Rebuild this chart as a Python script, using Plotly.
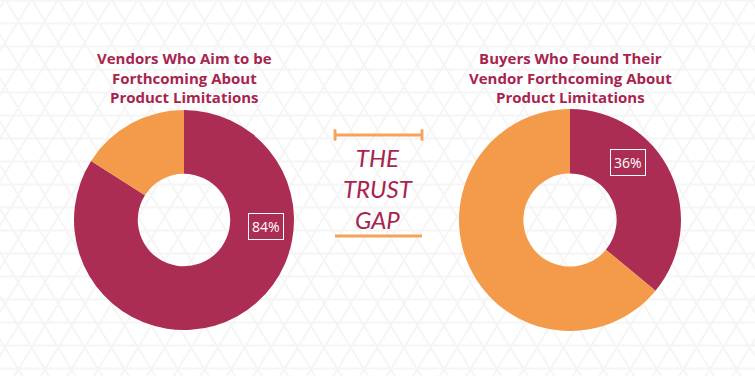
import plotly.graph_objects as go

W, H = 755, 376

# ---- data ----
slice_labels = ["Forthcoming", "Not forthcoming"]
vendor_values = [84, 16]
buyer_values = [36, 64]
vendor_title = ["Vendors Who Aim to be", "Forthcoming About", "Product Limitations"]
buyer_title = ["Buyers Who Found Their", "Vendor Forthcoming About", "Product Limitations"]
center_text = "THE<br>TRUST<br>GAP"

CRIMSON = "#AC2D53"
ORANGE = "#F39B4B"
TITLE_C = "#A7244E"
BAR_C = "#F5A35B"

def px(x):
    return x / W

def py(y):
    return 1 - y / H

fig = go.Figure()

fig.add_trace(go.Pie(
    labels=slice_labels, values=vendor_values, hole=0.42, sort=False,
    direction="clockwise", rotation=0, textinfo="none", hoverinfo="label+percent",
    marker=dict(colors=[CRIMSON, ORANGE], line=dict(width=0)),
    domain=dict(x=[px(74), px(294)], y=[(376 - 330) / H, (376 - 110) / H]),
    showlegend=False,
))
fig.add_trace(go.Pie(
    labels=slice_labels, values=buyer_values, hole=0.42, sort=False,
    direction="clockwise", rotation=0, textinfo="none", hoverinfo="label+percent",
    marker=dict(colors=[CRIMSON, ORANGE], line=dict(width=0)),
    domain=dict(x=[px(459), px(681)], y=[(376 - 331) / H, (376 - 109) / H]),
    showlegend=False,
))

# ---- background triangle pattern (single path) ----
step_y = 23.0
half = 13.3
segs = []
k = 0
while 0.5 + step_y * k <= H + 1:
    y = 0.5 + step_y * k
    segs.append(f"M{px(-5):.5f},{py(y):.5f}L{px(W + 5):.5f},{py(y):.5f}")
    k += 1
dx_full = (H + 30) / step_y * half
x0 = 18.3 - 26.6 * 20
while x0 < W + dx_full + 30:
    segs.append(f"M{px(x0):.5f},{py(0.5 - 23):.5f}L{px(x0 + dx_full + half):.5f},{py(0.5 + H + 7):.5f}")
    segs.append(f"M{px(x0):.5f},{py(0.5 - 23):.5f}L{px(x0 - dx_full - half):.5f},{py(0.5 + H + 7):.5f}")
    x0 += 26.6

shapes = [dict(type="path", xref="paper", yref="paper", path="".join(segs),
               line=dict(color="#F5F5F5", width=2), layer="below")]

# orange brackets
for yb in (135, 236):
    shapes.append(dict(type="line", xref="paper", yref="paper",
                       x0=px(335), x1=px(422), y0=py(yb), y1=py(yb),
                       line=dict(color=BAR_C, width=3)))
    for xb in (335, 422):
        shapes.append(dict(type="line", xref="paper", yref="paper",
                           x0=px(xb), x1=px(xb), y0=py(129.5), y1=py(140.5),
                           line=dict(color=BAR_C, width=2.5)))

annotations = []
for cx, lines in ((184, vendor_title), (570, buyer_title)):
    annotations.append(dict(
        text="<br>".join(lines), x=px(cx), y=py(77.5), xref="paper", yref="paper",
        showarrow=False, align="center", xanchor="center", yanchor="middle",
        font=dict(family="Open Sans", size=15, color=TITLE_C, weight=700)))

annotations += [
    dict(text=center_text, x=px(378), y=py(188), xref="paper", yref="paper",
         showarrow=False, align="center", xanchor="center", yanchor="middle",
         font=dict(family="Lato", size=24, color=TITLE_C, weight=400, style="italic")),
    dict(text=f"{vendor_values[0]}%", x=px(266), y=py(226.5), xref="paper", yref="paper",
         showarrow=False, xanchor="center", yanchor="middle",
         bordercolor="white", borderwidth=1, borderpad=3,
         font=dict(family="Open Sans", size=14, color="white")),
    dict(text=f"{buyer_values[0]}%", x=px(628), y=py(162), xref="paper", yref="paper",
         showarrow=False, xanchor="center", yanchor="middle",
         bordercolor="white", borderwidth=1, borderpad=3,
         font=dict(family="Open Sans", size=14, color="white")),
]

fig.update_layout(
    width=W, height=H, margin=dict(l=0, r=0, t=0, b=0),
    paper_bgcolor="white", plot_bgcolor="white",
    shapes=shapes, annotations=annotations,
)

fig.write_html("out.html", config={"displayModeBar": False},
               post_script="document.body.style.margin='0';")
